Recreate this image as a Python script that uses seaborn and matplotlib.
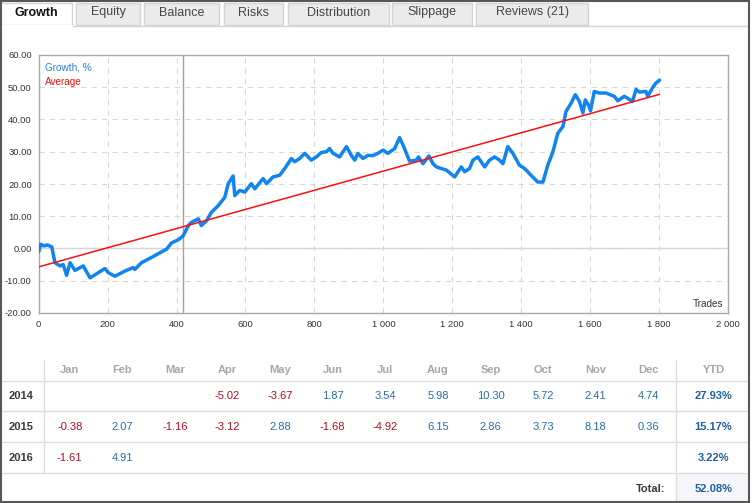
import matplotlib
matplotlib.use('Agg')
import matplotlib.pyplot as plt
import matplotlib.ticker as mticker
from matplotlib.patches import Rectangle
from matplotlib.lines import Line2D
import seaborn as sns
import pandas as pd

# Growth curve (trade number, growth %)
trades = [0, 6, 15, 25, 38, 47, 62, 71, 81, 91, 105, 129, 149, 173, 192, 202,
          221, 250, 274, 279, 298, 327, 352, 371, 385, 405, 419, 434, 443, 463,
          472, 487, 501, 521, 540, 550, 564, 569, 583, 598, 617, 627, 651, 661,
          680, 699, 714, 733, 743, 757, 772, 791, 806, 820, 835, 844, 854, 873,
          893, 907, 917, 926, 941, 955, 970, 984, 999, 1013, 1033, 1047, 1057,
          1076, 1096, 1102, 1115, 1132, 1144, 1154, 1183, 1207, 1226, 1236, 1250,
          1260, 1274, 1294, 1308, 1323, 1337, 1347, 1361, 1376, 1395, 1410, 1424,
          1448, 1463, 1477, 1492, 1506, 1521, 1530, 1545, 1557, 1569, 1579, 1586,
          1597, 1601, 1612, 1627, 1646, 1670, 1680, 1699, 1723, 1733, 1743, 1762,
          1767, 1781, 1791, 1801]
growth = [-1.0, 1.3, 0.8, 1.1, 0.5, -4.4, -5.4, -5.0, -8.3, -4.4, -6.8, -5.4,
          -9.1, -7.5, -6.2, -7.5, -8.6, -7.0, -5.9, -6.5, -4.4, -2.8, -1.3, -0.2,
          1.7, 2.7, 3.9, 7.1, 8.1, 9.2, 7.1, 8.6, 11.2, 13.3, 15.9, 20.1, 22.5,
          16.4, 18.0, 17.5, 20.1, 18.5, 21.7, 20.1, 22.2, 22.7, 24.8, 27.9, 26.9,
          27.9, 29.5, 27.4, 28.4, 29.8, 30.0, 31.0, 29.5, 28.4, 31.6, 28.9, 27.4,
          29.5, 27.9, 28.9, 28.8, 29.5, 30.5, 29.5, 31.0, 34.4, 32.1, 27.1, 27.4,
          28.4, 26.3, 28.7, 26.3, 25.3, 24.3, 22.2, 25.3, 23.8, 24.8, 27.4, 28.4,
          25.3, 27.4, 28.4, 27.4, 26.3, 31.6, 29.5, 25.8, 24.8, 23.2, 20.6, 20.6,
          25.8, 30.0, 35.7, 37.8, 42.5, 45.1, 47.7, 45.6, 42.0, 46.1, 44.1, 42.7,
          48.7, 48.2, 48.2, 47.2, 45.8, 47.2, 45.6, 49.3, 48.5, 48.7, 47.2, 49.8,
          51.3, 52.2]
avg_trades = [0, 1801]
avg_growth = [-5.7, 47.8]
cursor_trade = 419

tabs = ["Growth", "Equity", "Balance", "Risks", "Distribution", "Slippage", "Reviews (21)"]
months = ["Jan", "Feb", "Mar", "Apr", "May", "Jun", "Jul", "Aug", "Sep", "Oct", "Nov", "Dec"]
years = ["2014", "2015", "2016"]
returns_2014 = [None, None, None, -5.02, -3.67, 1.87, 3.54, 5.98, 10.30, 5.72, 2.41, 4.74]
returns_2015 = [-0.38, 2.07, -1.16, -3.12, 2.88, -1.68, -4.92, 6.15, 2.86, 3.73, 8.18, 0.36]
returns_2016 = [-1.61, 4.91, None, None, None, None, None, None, None, None, None, None]
ytd = [27.93, 15.17, 3.22]
total = 52.08

W, H = 752, 503


def fx(x):
    return x / W


def fy(y):
    return 1 - y / H


sns.set_style("white")
plt.rcParams['font.family'] = ['Liberation Sans', 'DejaVu Sans']

fig = plt.figure(figsize=(W / 100, H / 100), dpi=100)
fig.patch.set_facecolor("white")

# tab strip
tab_x = [(0, 72), (76, 140), (144, 219), (224, 283), (288, 389), (392, 472), (476, 588)]
for i, (name, (x0, x1)) in enumerate(zip(tabs, tab_x)):
    active = i == 0
    fig.add_artist(Rectangle((fx(x0), fy(25)), fx(x1 - x0), (25 - 3) / H,
                             transform=fig.transFigure,
                             facecolor="white" if active else "#ebebeb",
                             edgecolor="#d4d4d4", lw=1, zorder=1))
    fig.text(fx((x0 + x1) / 2), fy(12.5), name, ha="center", va="center",
             fontsize=9, color="#111111" if active else "#474747",
             fontweight="bold" if active else "normal", zorder=3)
fig.add_artist(Line2D([fx(72), fx(748)], [fy(25.5), fy(25.5)], transform=fig.transFigure,
                      color="#d4d4d4", lw=1, zorder=2))
fig.add_artist(Line2D([fx(0.5), fx(72)], [fy(26), fy(26)], transform=fig.transFigure,
                      color="white", lw=1.5, zorder=2))

# chart
ax = fig.add_axes([fx(38.7), fy(313), fx(728 - 38.7), (313 - 55) / H])
ax.set_axisbelow(True)
ax.grid(True, color="#d6d6d6", lw=0.75, ls=(0, (5, 5)))
ax.axhline(0, color="#d6d6d6", lw=1, zorder=0.5)
ax.axvline(cursor_trade, color="#a0a0a0", lw=1, zorder=1)

df = pd.DataFrame({"trades": trades, "growth": growth})
avg = pd.DataFrame({"trades": avg_trades, "growth": avg_growth})
sns.lineplot(data=df, x="trades", y="growth", ax=ax, color="#1184f0", lw=2.5,
             estimator=None, sort=False, zorder=3)
sns.lineplot(data=avg, x="trades", y="growth", ax=ax, color="#ff1010", lw=1.1,
             estimator=None, sort=False, zorder=4)

ax.set_xlim(0, 2000)
ax.set_ylim(-20, 60)
ax.set_xticks(range(0, 2001, 200))
ax.set_yticks(range(-20, 61, 10))
ax.xaxis.set_major_formatter(mticker.FuncFormatter(lambda v, p: f"{int(v):,}".replace(",", " ")))
ax.yaxis.set_major_formatter(mticker.FuncFormatter(lambda v, p: f"{v:.2f}"))
ax.tick_params(length=0, pad=5, labelsize=6.8, labelcolor="#333333")
ax.set_xlabel("")
ax.set_ylabel("")
for s in ax.spines.values():
    s.set_color("#a8a8a8")
    s.set_linewidth(1)

fig.text(fx(45), fy(67), "Growth, %", color="#2a7fe0", fontsize=7.2, va="center")
fig.text(fx(45), fy(82), "Average", color="#ee1111", fontsize=7.2, va="center")
fig.text(fx(723), fy(304), "Trades", color="#333333", fontsize=7.2, ha="right", va="center")

# monthly table
col_x = [69.7 + 52.6 * i for i in range(12)]
ytd_x = 713.5
header_y = 370
row_y = [396, 427, 458]
line_y = [380.7, 411.3, 442.3, 473.3]
neg_color, pos_color, ytd_color = "#b00d23", "#2b6ca8", "#1d5fa0"

fig.add_artist(Rectangle((fx(676), fy(501)), fx(748 - 676), (501 - 473.3) / H,
                         transform=fig.transFigure, facecolor="#f4f6fb",
                         edgecolor="none", zorder=0))
for y in line_y:
    fig.add_artist(Line2D([fx(1), fx(748)], [fy(y), fy(y)], transform=fig.transFigure,
                          color="#dcdcdc", lw=1))
fig.add_artist(Line2D([fx(44.3), fx(44.3)], [fy(360), fy(473.3)], transform=fig.transFigure,
                      color="#dcdcdc", lw=1))
fig.add_artist(Line2D([fx(676), fx(676)], [fy(360), fy(501)], transform=fig.transFigure,
                      color="#dcdcdc", lw=1))

for m, x in zip(months, col_x):
    fig.text(fx(x), fy(header_y), m, ha="center", va="center", fontsize=8,
             fontweight="bold", color="#a6a6a6")
fig.text(fx(ytd_x), fy(header_y), "YTD", ha="center", va="center", fontsize=8,
         fontweight="bold", color="#a6a6a6")

for year, vals, y, yv in zip(years, [returns_2014, returns_2015, returns_2016], row_y, ytd):
    fig.text(fx(8.3), fy(y), year, ha="left", va="center", fontsize=8,
             fontweight="bold", color="#3a3a3a")
    for v, x in zip(vals, col_x):
        if v is None:
            continue
        fig.text(fx(x), fy(y), f"{v:.2f}", ha="center", va="center", fontsize=8,
                 color=neg_color if v < 0 else pos_color)
    fig.text(fx(ytd_x), fy(y), f"{yv:.2f}%", ha="center", va="center", fontsize=8,
             fontweight="bold", color=ytd_color)

fig.text(fx(665.5), fy(489), "Total:", ha="right", va="center", fontsize=8,
         fontweight="bold", color="#3a3a3a")
fig.text(fx(ytd_x), fy(489), f"{total:.2f}%", ha="center", va="center", fontsize=8,
         fontweight="bold", color=ytd_color)

# outer frame
fig.add_artist(Rectangle((fx(0.75), fy(501.8)), fx(748.5 - 0.75), (501.8 - 0.75) / H,
                         transform=fig.transFigure, fill=False,
                         edgecolor="#575757", lw=1.5, zorder=5))

fig.savefig("out.png", dpi=100, facecolor="white")
